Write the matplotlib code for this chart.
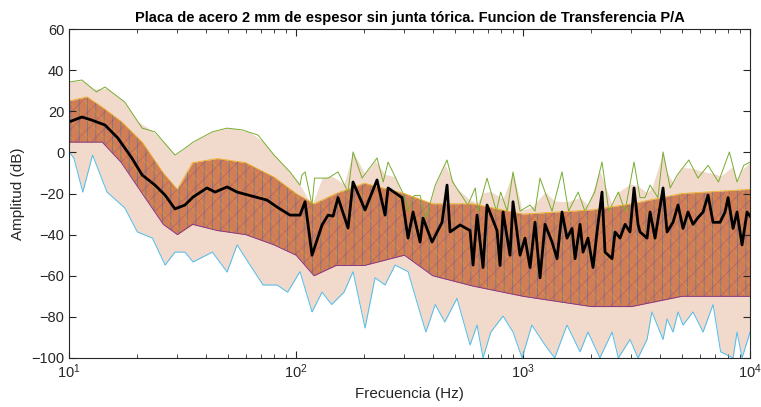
import matplotlib
matplotlib.use('Agg')
import matplotlib.pyplot as plt
import numpy as np

plt.rcParams['font.family'] = ['Liberation Sans', 'DejaVu Sans']
plt.rcParams['hatch.linewidth'] = 0.6

# curva media (negra)
f_mean = [10, 10.1, 11.4, 12.6, 14.4, 16.4, 18.9, 21.0, 23.9, 26.5, 29.3, 32.4,
          35.2, 40.5, 44.0, 49.7, 55.0, 62.7, 74.5, 82.5, 94.1, 104.1, 109.6,
          117.6, 130.2, 138.4, 145.6, 153.1, 169.5, 178.3, 201.4, 227.4, 246.7,
          254.3, 293.1, 311.5, 327.7, 351.9, 362.7, 397.3, 439.8, 462.6, 477.0,
          528.0, 584.3, 602.3, 627.2, 666.5, 694.0, 768.2, 791.8, 816.3, 876.3,
          903.3, 970.0, 1020, 1074, 1129, 1188, 1250, 1342, 1412, 1485, 1562,
          1644, 1695, 1783, 1838, 1933, 2034, 2118, 2228, 2297, 2467, 2543, 2675,
          2814, 2960, 3083, 3211, 3276, 3518, 3627, 3815, 4138, 4309, 4579, 4817,
          5067, 5332, 5609, 5900, 6209, 6531, 6871, 7377, 7762, 8002, 8419, 8764,
          9221, 9700, 10000]
a_mean = [14.8, 15.0, 17.2, 15.7, 13.3, 7.0, -2.7, -11.0, -15.9, -20.8, -27.5, -25.6,
          -21.7, -17.3, -19.3, -16.8, -19.3, -21.0, -23.2, -26.6, -30.5, -30.5, -24.0,
          -50.0, -35.3, -30.5, -31.0, -22.0, -36.8, -14.4, -28.0, -13.4, -30.5,
          -17.3, -22.0, -41.7, -29.0, -43.6, -32.0, -43.6, -34.0, -15.9, -38.7,
          -35.3, -38.0, -54.8, -30.5, -56.0, -25.6, -38.0, -55.0, -29.0, -50.0,
          -24.0, -50.0, -41.7, -56.0, -34.0, -61.0, -35.0, -43.6, -51.7, -29.0, -41.7,
          -37.0, -51.7, -35.0, -48.5, -41.7, -56.0, -38.7, -19.3, -48.5, -51.7, -38.7, -41.7,
          -35.0, -38.7, -17.3, -35.0, -38.7, -41.7, -29.0, -41.7, -17.3, -38.7, -34.0, -25.6,
          -37.0, -29.0, -35.0, -31.7, -29.0, -20.8, -34.0, -34.0, -29.0, -22.0, -37.0, -29.0,
          -45.0, -29.0, -31.0]

# envolvente superior del haz de curvas
f_up = [10, 11.4, 13.2, 14.4, 17.6, 21.0, 23.9, 29.3, 32.4, 35.2, 42.8, 49.7, 58.1,
        68.0, 80.0, 94.1, 104.1, 106.1, 109.6, 117.6, 120.7, 138.4, 153.1, 169.5,
        178.3, 195.4, 227.4, 242.1, 254.3, 302.2, 311.5, 331.1, 351.9, 373.1, 410.5,
        462.6, 489.4, 571.5, 615.8, 633.6, 694.0, 763.4, 797.2, 852.1, 903.3, 970.0,
        1074, 1129, 1188, 1250, 1342, 1485, 1587, 1749, 1873, 2069, 2228, 2387, 2629,
        2814, 3083, 3276, 3446, 3627, 3929, 4138, 4449, 4778, 5376, 5900, 6531,
        7258, 8112, 8764, 9383, 10000]
a_up = [34.2, 35.2, 29.4, 31.8, 24.5, 11.8, 10.0, -1.3, 2.0, 5.0, 10.0, 11.8, 10.9,
        8.4, -1.3, -9.5, -15.9, -11.0, -9.5, -25.6, -12.5, -12.5, -9.5, -19.3,
        0.2, -12.5, -2.7, -14.4, -4.7, -22.0, -28.6, -21.0, -21.0, -32.0, -15.9,
        -3.7, -14.4, -25.6, -17.3, -28.6, -12.5, -28.6, -19.3, -28.6, -9.5, -28.6,
        -25.6, -28.6, -12.5, -19.3, -28.6, -9.5, -28.6, -19.3, -28.6, -19.3, -4.7,
        -28.6, -19.3, -28.6, -4.7, -22.0, -22.0, -15.9, -22.0, 0.2, -17.3, -11.0,
        -3.7, -12.5, -6.3, -14.4, 0.2, -14.4, -6.3, -4.7]

# envolvente inferior
f_lo = [10, 10.5, 11.5, 12.7, 14.7, 17.6, 20.0, 23.3, 26.5, 29.3, 32.4, 35.2, 42.8,
        49.7, 55.0, 62.7, 71.6, 82.5, 91.8, 104.1, 117.6, 130.2, 143.5, 162.7, 178.3,
        201.4, 222.9, 246.7, 273.1, 311.5, 340.8, 373.1, 410.5, 452.0, 511.5, 584.3,
        627.2, 666.5, 721.2, 816.3, 903.3, 991.0, 1093, 1250, 1378, 1562, 1783, 1933,
        2180, 2467, 2629, 2960, 3211, 3518, 3695, 4138, 4309, 4578, 4817, 5067, 5609,
        6209, 6871, 7422, 8419, 8764, 9221, 10000]
a_lo = [0.2, -2.7, -19.3, -1.3, -19.3, -27.0, -38.7, -41.7, -54.8, -48.5, -48.5,
        -53.3, -48.5, -58.2, -45.0, -54.8, -64.5, -64.5, -68.0, -58.0, -77.6, -68.0,
        -74.0, -68.0, -58.0, -85.4, -61.0, -64.5, -54.8, -58.0, -72.8, -87.4, -74.0,
        -82.5, -71.0, -93.7, -84.0, -100.0, -87.4, -79.6, -87.4, -100.0, -84.0,
        -93.7, -100.0, -84.0, -97.0, -87.4, -100.0, -87.4, -100.0, -91.0, -100.0,
        -91.0, -77.6, -91.0, -81.0, -87.4, -77.6, -84.0, -77.6, -87.4, -74.0, -97.0,
        -100.0, -87.4, -100.0, -87.4]

# nucleo denso del haz
f_core = [10, 12, 14, 17, 21, 26, 30, 35, 45, 60, 80, 100, 120, 150, 200, 300,
          400, 600, 1000, 2000, 3000, 5000, 10000]
core_hi = [25, 27, 22, 15, 5, -10, -18, -5, -3, -5, -12, -20, -25, -20, -15,
           -20, -25, -25, -30, -28, -25, -20, -18]
core_lo = [5, 5, 5, -5, -20, -35, -40, -35, -38, -40, -45, -50, -60, -55, -55,
           -50, -60, -65, -70, -75, -75, -70, -70]

fig = plt.figure(figsize=(7.61, 4.07), dpi=100)
ax = fig.add_axes([0.0907, 0.1204, 0.8949, 0.8083])

# haz de curvas (colores por defecto de MATLAB)
ax.fill_between(f_lo, a_lo, np.interp(np.log10(f_lo), np.log10(f_up), a_up),
                color='#d9926c', alpha=0.35, lw=0)
ax.fill_between(f_core, core_lo, core_hi, color='#c9673a', alpha=0.8, lw=0)
ax.fill_between(f_core, core_lo, core_hi, facecolor='none', edgecolor='#0072BD',
                hatch='||', lw=0, alpha=0.45)
ax.fill_between(f_core, core_lo, core_hi, facecolor='none', edgecolor='#EDB120',
                hatch='\\\\', lw=0, alpha=0.35)
ax.fill_between(f_core, core_lo, core_hi, facecolor='none', edgecolor='#7E2F8E',
                hatch='//', lw=0, alpha=0.3)
ax.plot(f_up, a_up, color='#77AC30', lw=0.7)
ax.plot(f_lo, a_lo, color='#4DBEEE', lw=0.7)
ax.plot(f_core, core_hi, color='#EDB120', lw=0.6)
ax.plot(f_core, core_lo, color='#7E2F8E', lw=0.6)
ax.plot(f_mean, a_mean, color='black', lw=2)

ax.set_xscale('log')
ax.set_xlim(10, 10000)
ax.set_ylim(-100, 60)
ax.set_yticks(np.arange(-100, 61, 20))
ax.tick_params(which='both', direction='in', top=True, right=True,
               colors='#262626', labelsize=10.5)
ax.tick_params(which='major', length=5)
ax.tick_params(which='minor', length=3)
for s in ax.spines.values():
    s.set_color('#262626')
    s.set_linewidth(0.8)

ax.set_xlabel('Frecuencia (Hz)', fontsize=11, color='#262626')
ax.set_ylabel('Amplitud (dB)', fontsize=11, color='#262626')
ax.set_title('Placa de acero 2 mm de espesor sin junta tórica. Funcion de Transferencia P/A',
             fontsize=10.5, fontweight='bold', color='black', pad=5)

fig.savefig('out.png', dpi=100)
